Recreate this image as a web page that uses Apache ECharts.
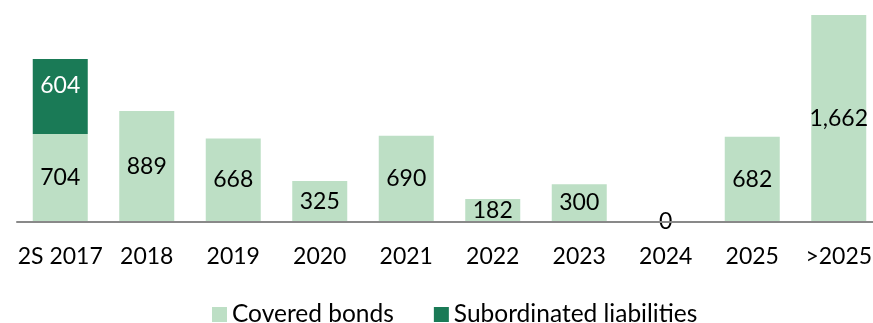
<!DOCTYPE html>
<html>
<head>
<meta charset="utf-8">
<script src="https://cdn.jsdelivr.net/npm/echarts@6/dist/echarts.min.js"></script>
<style>
  html, body { margin: 0; padding: 0; background: #fff; }
  #chart { width: 873px; height: 323px; }
</style>
</head>
<body>
<div id="chart"></div>
<script>
// Maturity profile: covered bonds and subordinated liabilities per period
const categories = ['2S 2017', '2018', '2019', '2020', '2021', '2022', '2023', '2024', '2025', '>2025'];
const coveredBonds = [704, 889, 668, 325, 690, 182, 300, 0, 682, 1662];
const subordinatedLiabilities = [604, null, null, null, null, null, null, null, null, null];

const FONT = 'Lato';
const SIZE = 23;
const fmt = v => Number(v).toLocaleString('en-US');

const chart = echarts.init(document.getElementById('chart'), null, { renderer: 'canvas' });
chart.setOption({
  animation: false,
  textStyle: { fontFamily: FONT },
  grid: { left: 17, top: 15, width: 865, height: 206.5, containLabel: false, outerBoundsMode: 'none' },
  legend: {
    left: 207,
    top: 297,
    itemWidth: 15,
    itemHeight: 15,
    itemGap: 40,
    icon: 'rect',
    textStyle: { fontFamily: FONT, fontSize: 24.5, color: '#000' },
    data: ['Covered bonds', 'Subordinated liabilities']
  },
  xAxis: {
    type: 'category',
    data: categories,
    z: 3,
    axisLine: { lineStyle: { color: '#898989', width: 2 } },
    axisTick: { show: false },
    axisLabel: { color: '#000', fontSize: SIZE, fontFamily: FONT, margin: 24, interval: 0 }
  },
  yAxis: {
    type: 'value',
    min: 0,
    max: 1662,
    show: false,
    splitLine: { show: false }
  },
  series: [
    {
      name: 'Covered bonds',
      type: 'bar',
      stack: 'total',
      barWidth: 55,
      data: coveredBonds,
      itemStyle: { color: '#bddfc5' },
      label: {
        show: true,
        position: 'inside',
        color: '#000',
        fontSize: SIZE,
        fontFamily: FONT,
        formatter: p => fmt(p.value)
      }
    },
    {
      name: 'Subordinated liabilities',
      type: 'bar',
      stack: 'total',
      barWidth: 55,
      data: subordinatedLiabilities,
      itemStyle: { color: '#1a7a56' },
      label: {
        show: true,
        position: 'inside',
        offset: [0, -11],
        color: '#fff',
        fontSize: SIZE,
        fontFamily: FONT,
        formatter: p => fmt(p.value)
      }
    }
  ]
});
</script>
</body>
</html>
